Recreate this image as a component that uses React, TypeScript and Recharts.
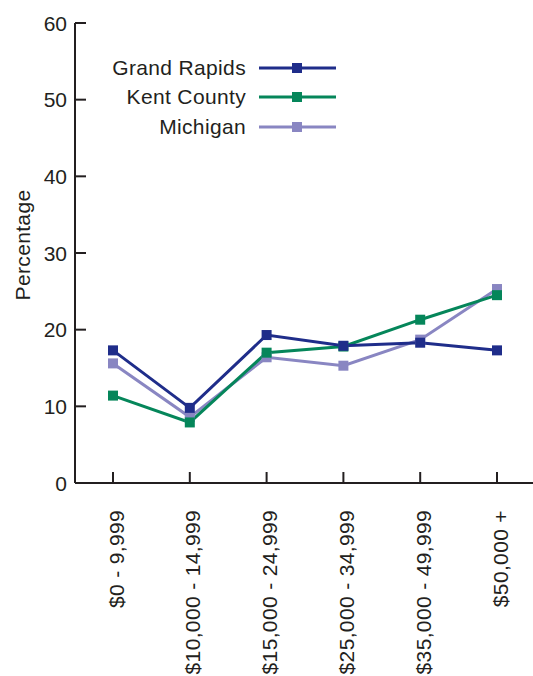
import React from 'react';
import { LineChart, Line, XAxis, YAxis } from 'recharts';

const incomeBands = [
  '$0 - 9,999',
  '$10,000 - 14,999',
  '$15,000 - 24,999',
  '$25,000 - 34,999',
  '$35,000 - 49,999',
  '$50,000 +',
];
const grandRapids = [17.3, 9.8, 19.3, 17.9, 18.3, 17.3];
const kentCounty = [11.4, 7.9, 17.0, 17.8, 21.3, 24.5];
const michigan = [15.6, 8.6, 16.4, 15.3, 18.7, 25.3];
const yTicks = [0, 10, 20, 30, 40, 50, 60];

const FONT = '"Liberation Sans", Arial, Helvetica, sans-serif';
const INK = '#231f20';
const FS = 21;
const LS = 0.35;

const series = [
  { key: 'grandRapids', name: 'Grand Rapids', color: '#1f2d8a' },
  { key: 'kentCounty', name: 'Kent County', color: '#05865a' },
  { key: 'michigan', name: 'Michigan', color: '#8986c2' },
];

const data = incomeBands.map((band, i) => ({
  band,
  grandRapids: grandRapids[i],
  kentCounty: kentCounty[i],
  michigan: michigan[i],
}));

const squareDot = (color: string) => (props: any) => {
  const { cx, cy, index } = props;
  if (cx == null || cy == null) return <g key={index} />;
  return <rect key={index} x={cx - 5} y={cy - 5} width={10} height={10} fill={color} />;
};

const YTick = (props: any) => {
  const { x, y, payload } = props;
  return (
    <g>
      <line x1={x} x2={x + 11} y1={y} y2={y} stroke={INK} strokeWidth={2} />
      <text x={x - 8} y={y} textAnchor="end" dominantBaseline="central" fontSize={FS} fontFamily={FONT} fill={INK}>
        {payload.value}
      </text>
    </g>
  );
};

const XTick = (props: any) => {
  const { x, y, payload } = props;
  const tx = x + 3;
  const ty = y + 27;
  return (
    <g>
      <line x1={x} x2={x} y1={y} y2={y - 11} stroke={INK} strokeWidth={2} />
      <text
        x={tx}
        y={ty}
        transform={`rotate(-90, ${tx}, ${ty})`}
        textAnchor="end"
        dominantBaseline="central"
        fontSize={FS}
        fontFamily={FONT}
        letterSpacing={LS}
        fill={INK}
      >
        {payload.value}
      </text>
    </g>
  );
};

const LegendBox = () => (
  <div style={{ position: 'absolute', top: 53, left: 90, fontFamily: FONT, fontSize: FS, color: INK, letterSpacing: LS }}>
    {series.map((s) => (
      <div key={s.key} style={{ display: 'flex', alignItems: 'center', height: 29.5 }}>
        <span style={{ width: 156, textAlign: 'right', whiteSpace: 'nowrap' }}>{s.name}</span>
        <svg width={80} height={12} style={{ marginLeft: 13 }}>
          <line x1={0} x2={77} y1={6} y2={6} stroke={s.color} strokeWidth={3} />
          <rect x={33} y={1} width={10} height={10} fill={s.color} />
        </svg>
      </div>
    ))}
  </div>
);

export default function App() {
  const drawOrder = [series[2], series[1], series[0]];
  return (
    <div style={{ position: 'absolute', left: 0, top: 0, width: 533, height: 676, overflow: 'hidden', background: '#fff' }}>
      <LineChart width={533} height={676} data={data} margin={{ top: 23, right: 0, left: 0, bottom: 0 }}>
        <XAxis
          dataKey="band"
          height={193}
          interval={0}
          padding={{ left: 38, right: 36 }}
          axisLine={{ stroke: INK, strokeWidth: 2 }}
          tickLine={false}
          tickSize={0}
          tickMargin={0}
          tick={<XTick />}
        />
        <YAxis
          width={75}
          domain={[0, 60]}
          ticks={yTicks}
          interval={0}
          axisLine={{ stroke: INK, strokeWidth: 2 }}
          tickLine={false}
          tickSize={0}
          tickMargin={0}
          tick={<YTick />}
          label={{
            value: 'Percentage',
            angle: -90,
            position: 'insideLeft',
            dx: 18,
            dy: -8,
            style: { fontSize: FS, fontFamily: FONT, fill: INK, textAnchor: 'middle', letterSpacing: LS },
          }}
        />
        {drawOrder.map((s) => (
          <Line
            key={s.key}
            dataKey={s.key}
            name={s.name}
            type="linear"
            stroke={s.color}
            strokeWidth={3}
            dot={squareDot(s.color)}
            activeDot={false}
            isAnimationActive={false}
          />
        ))}
      </LineChart>
      <LegendBox />
    </div>
  );
}
